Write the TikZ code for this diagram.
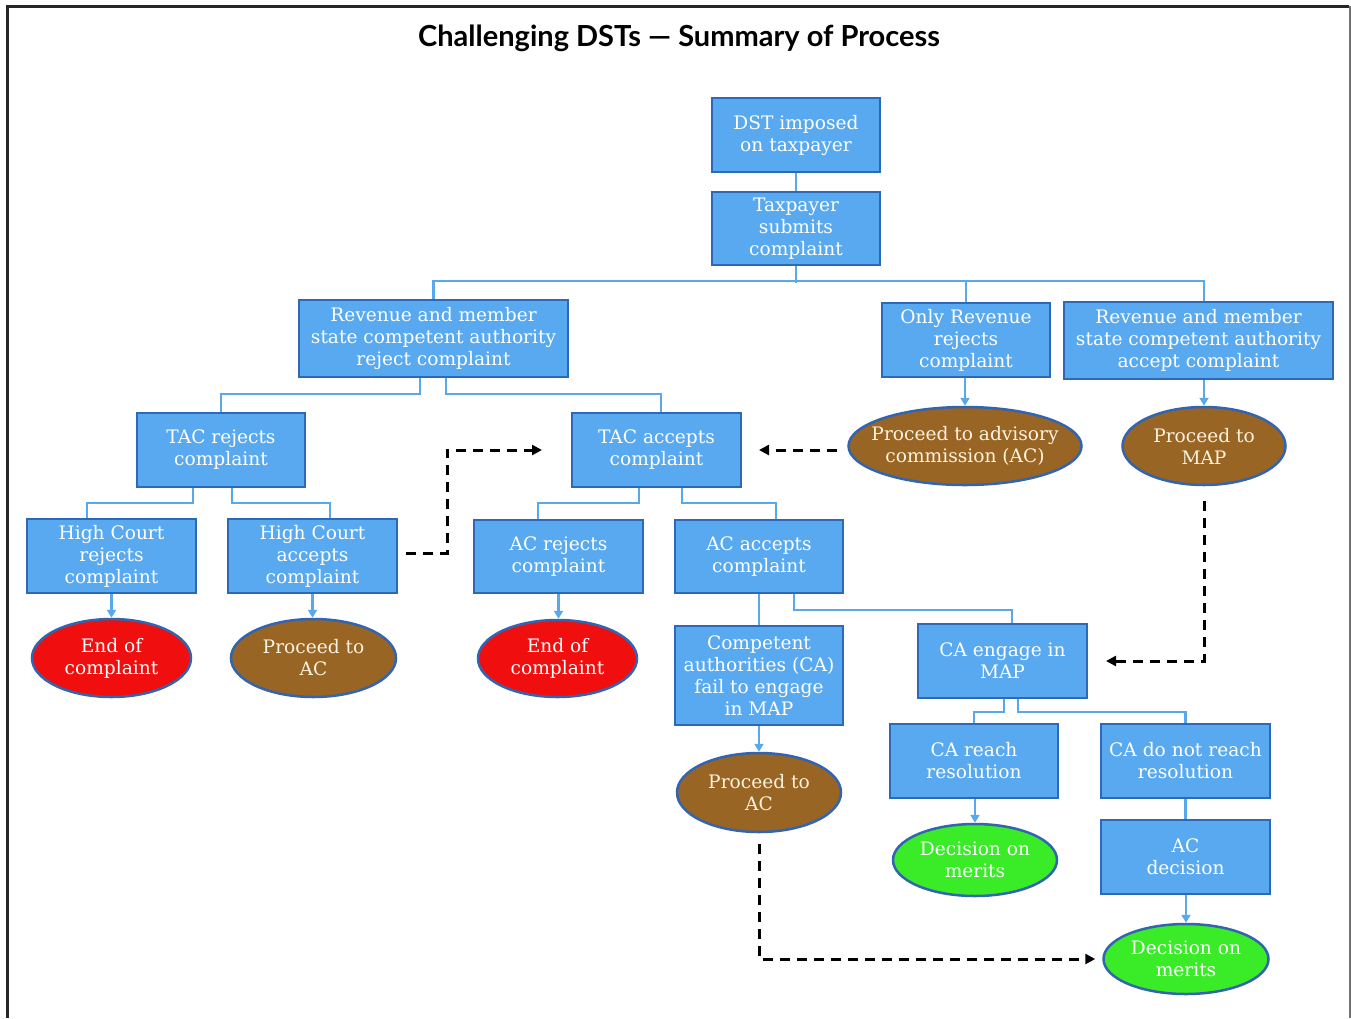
\documentclass[tikz,border=0pt]{standalone}
\usepackage{fontspec}
\newfontfamily\titlefont{Lato}
\newfontfamily\serfam{DejaVu Serif}
\usetikzlibrary{arrows.meta,shapes.geometric}
\definecolor{boxfill}{RGB}{89,169,240}
\definecolor{boxedge}{RGB}{45,105,185}
\definecolor{linkc}{RGB}{90,168,236}
\definecolor{brownfill}{RGB}{152,101,36}
\definecolor{redfill}{RGB}{240,14,14}
\definecolor{greenfill}{RGB}{58,236,40}
\definecolor{elledge}{RGB}{50,100,175}
\definecolor{cream}{RGB}{255,243,222}
\newcommand\bxfont{\serfam\fontsize{18.6}{22}\selectfont}
\begin{document}
\begin{tikzpicture}[x=1pt,y=-1pt,
  box/.style={draw=boxedge, line width=2pt, fill=boxfill, rectangle, inner sep=0pt,
    text=white, align=center, font=\bxfont},
  ell/.style={draw=elledge, line width=2.5pt, ellipse, inner sep=0pt},
  etxt/.style={align=center, font=\bxfont, inner sep=0pt},
  brown/.style={ell, fill=brownfill},
  redell/.style={ell, fill=redfill},
  greenell/.style={ell, fill=greenfill},
  link/.style={draw=linkc, line width=2.5pt},
  linkarr/.style={link, -{Triangle[length=8pt,width=9pt]}},
  dsh/.style={draw=black, line width=3pt, dash pattern=on 10pt off 7pt,
    -{Triangle[length=10pt,width=10pt]}}
]
\useasboundingbox (0,0) rectangle (1351,1018);
\fill[white] (0,0) rectangle (1351,1018);
% frame
\draw[line width=3pt, black!85] (7,1018) -- (7,6) -- (1349,6);
\draw[line width=1.2pt, black!55] (1350,6) -- (1350,1018);

\node[font=\titlefont\bfseries\fontsize{29}{32}\selectfont] (title) at (679,38)
  {Challenging DSTs — Summary of Process};

% boxes
\node[box, minimum width=168pt, minimum height=74pt] (b1) at (796,135) {DST imposed\\on taxpayer};
\node[box, minimum width=168pt, minimum height=73pt] (b2) at (796,228.5) {Taxpayer\\submits\\complaint};
\node[box, minimum width=269pt, minimum height=77pt] (b3) at (433.5,338.5) {Revenue and member\\state competent authority\\reject complaint};
\node[box, minimum width=168pt, minimum height=74pt] (b4) at (966,340) {Only Revenue\\rejects\\complaint};
\node[box, minimum width=269pt, minimum height=77pt] (b5) at (1198.5,340.5) {Revenue and member\\state competent authority\\accept complaint};
\node[box, minimum width=168pt, minimum height=74pt] (b6) at (221,450) {TAC rejects\\complaint};
\node[box, minimum width=169pt, minimum height=74pt] (b7) at (656.5,450) {TAC accepts\\complaint};
\node[box, minimum width=169pt, minimum height=74pt] (b8) at (111.5,556) {High Court\\rejects\\complaint};
\node[box, minimum width=169pt, minimum height=74pt] (b9) at (312.5,556) {High Court\\accepts\\complaint};
\node[box, minimum width=169pt, minimum height=73pt] (b10) at (558.5,556.5) {AC rejects\\complaint};
\node[box, minimum width=168pt, minimum height=73pt] (b11) at (759,556.5) {AC accepts\\complaint};
\node[box, minimum width=168pt, minimum height=99pt] (b12) at (759,675.5) {Competent\\authorities (CA)\\fail to engage\\in MAP};
\node[box, minimum width=169pt, minimum height=74pt] (b13) at (1002.5,661) {CA engage in\\MAP};
\node[box, minimum width=168pt, minimum height=74pt] (b14) at (974,761) {CA reach\\resolution};
\node[box, minimum width=169pt, minimum height=74pt] (b15) at (1185.5,761) {CA do not reach\\resolution};
\node[box, minimum width=169pt, minimum height=74pt] (b16) at (1185.5,857) {AC\\decision};

% ellipses
\node[brown, minimum width=233pt, minimum height=78pt,
  label={[etxt, text=cream]center:Proceed to advisory\\commission (AC)}] (e1) at (965,446) {};
\node[brown, minimum width=163pt, minimum height=78pt,
  label={[etxt, text=cream]center:Proceed to\\MAP}] (e2) at (1204,446) {};
\node[redell, minimum width=159pt, minimum height=78pt,
  label={[etxt, text=white]center:End of\\complaint}] (e3) at (111.5,658) {};
\node[brown, minimum width=165pt, minimum height=78pt,
  label={[etxt, text=cream]center:Proceed to\\AC}] (e4) at (313.5,658) {};
\node[redell, minimum width=159pt, minimum height=77pt,
  label={[etxt, text=white]center:End of\\complaint}] (e5) at (557.5,658.5) {};
\node[brown, minimum width=164pt, minimum height=79pt,
  label={[etxt, text=cream]center:Proceed to\\AC}] (e6) at (759,792.5) {};
\node[greenell, minimum width=164pt, minimum height=72pt,
  label={[etxt, text=white]center:Decision on\\merits}] (e7) at (975,860) {};
\node[greenell, minimum width=165pt, minimum height=70pt,
  label={[etxt, text=white]center:Decision on\\merits}] (e8) at (1186,959) {};

% blue connectors
\draw[link] (b1) -- (b2);
\draw[link] (b2.south) -- ++(0,17);
\draw[link] (b3.north) -- ++(0,-18) -| (b5.north -| e2.north);
\draw[link] (b4.north) -- ++(0,-21);
\draw[link] ([xshift=-13.5pt]b3.south) -- ++(0,16) -| (b6.north);
\draw[link] ([xshift=12.5pt]b3.south) -- ++(0,16) -| ([xshift=4.5pt]b7.north);
\draw[link] ([xshift=-28pt]b6.south) -- ++(0,15) -| ([xshift=-24.5pt]b8.north);
\draw[link] ([xshift=11pt]b6.south) -- ++(0,15) -| ([xshift=17.5pt]b9.north);
\draw[link] ([xshift=-17.5pt]b7.south) -- ++(0,15) -| ([xshift=-20.5pt]b10.north);
\draw[link] ([xshift=25.5pt]b7.south) -- ++(0,15) -| ([xshift=17pt]b11.north);
\draw[link] (b11) -- (b12);
\draw[link] ([xshift=35pt]b11.south) -- ++(0,16) -| ([xshift=9.5pt]b13.north);
\draw[link] ([xshift=1.5pt]b13.south) -- ++(0,13) -| (b14.north);
\draw[link] ([xshift=15.5pt]b13.south) -- ++(0,13) -| (b15.north);
\draw[link] (b15) -- (b16);

\draw[linkarr] (b4.south -| e1.north) -- (e1.north);
\draw[linkarr] (b5.south -| e2.north) -- (e2.north);
\draw[linkarr] (b8.south) -- (e3.north -| b8.south);
\draw[linkarr] (b9.south) -- (e4.north -| b9.south);
\draw[linkarr] (b10.south) -- (e5.north -| b10.south);
\draw[linkarr] (b12.south) -- (e6.north);
\draw[linkarr] (b14.south -| e7.north) -- (e7.north);
\draw[linkarr] (b16.south -| e8.north) -- (e8.north);

% dashed connectors
\draw[dsh] ([xshift=8pt,yshift=3pt]b9.east) -- (447,553) |- ([xshift=-29pt]b7.west);
\draw[dsh] ([xshift=-10pt]e1.west |- b7.east) -- ([xshift=17pt]b7.east);
\draw[dsh] ([yshift=-15pt]e2.south) |- ([xshift=18pt]b13.east);
\draw[dsh] ([yshift=-11pt]e6.south) |- ([xshift=-7pt]e8.west);
\end{tikzpicture}
\end{document}
